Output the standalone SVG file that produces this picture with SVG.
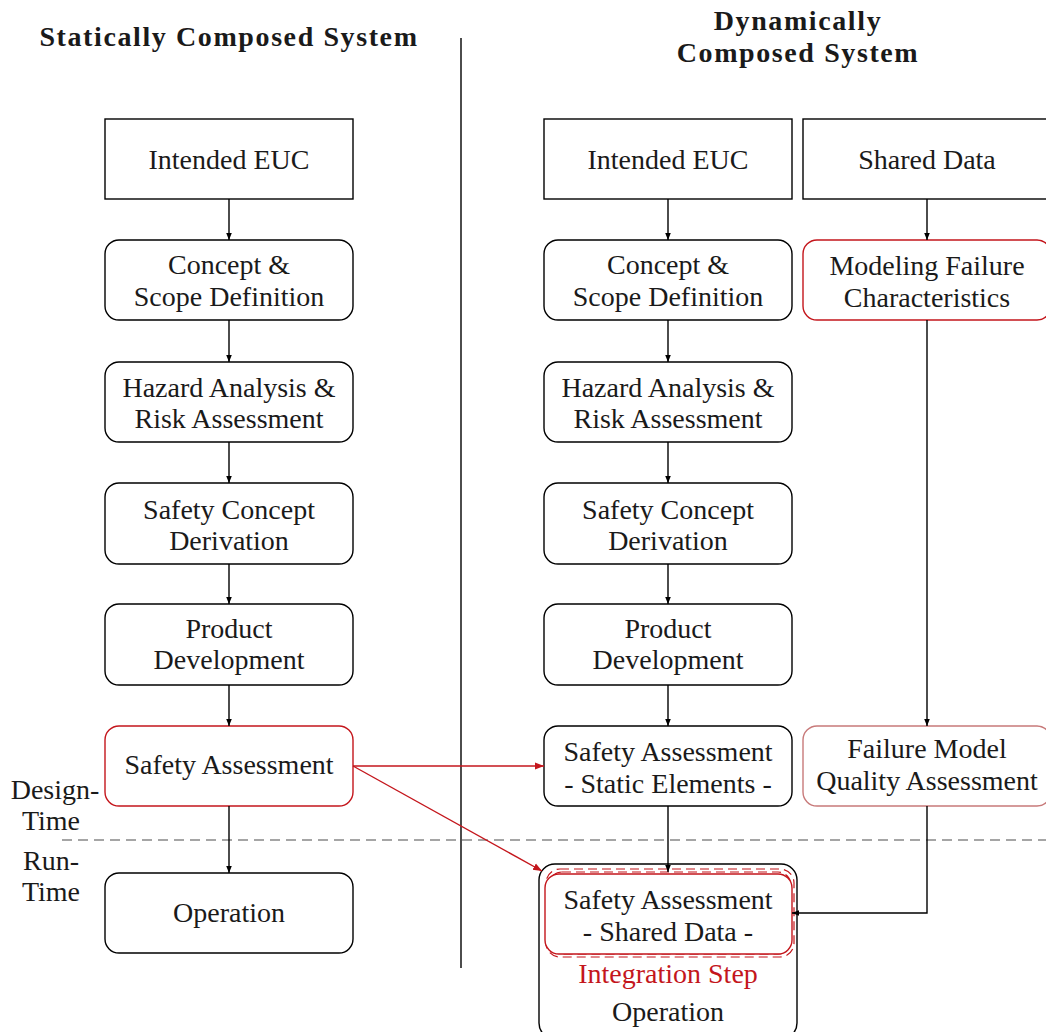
<svg xmlns="http://www.w3.org/2000/svg" width="1046" height="1032" viewBox="0 0 1046 1032">
  <style>
    text { font-family: "Liberation Serif", "DejaVu Serif", serif; font-size: 28px; fill: #1a1a1a; text-anchor: middle; }
    .title { font-weight: bold; font-size: 28px; letter-spacing: 1.6px; }
    .box { fill: #fff; stroke: #000; stroke-width: 1.4; }
    .red { stroke: #c4161c; }
    .pale { stroke: #c87a7a; }
    .conn { stroke: #000; stroke-width: 1.4; fill: none; }
    .rconn { stroke: #c4161c; stroke-width: 1.4; fill: none; }
    .redtext { fill: #c4161c; }
  </style>
  <defs>
    <marker id="arr" viewBox="0 0 10 10" refX="10" refY="5" markerWidth="7" markerHeight="7" orient="auto" markerUnits="userSpaceOnUse">
      <path d="M0,1 L10,5 L0,9 z" fill="#000"/>
    </marker>
    <marker id="arrRed" viewBox="0 0 10 10" refX="10" refY="5" markerWidth="9" markerHeight="9" orient="auto" markerUnits="userSpaceOnUse">
      <path d="M0,1 L10,5 L0,9 z" fill="#c4161c"/>
    </marker>
  </defs>

  <rect width="1046" height="1032" fill="#fff"/>

  <!-- headings and separators -->
  <text class="title" x="229" y="46">Statically Composed System</text>
  <text class="title" x="798" y="30">Dynamically</text>
  <text class="title" x="798" y="62">Composed System</text>
  <line x1="461" y1="38" x2="461" y2="968" stroke="#000" stroke-width="1.4"/>
  <line x1="62" y1="840" x2="1046" y2="840" stroke="#888" stroke-width="1.4" stroke-dasharray="10,6"/>
  <text x="55" y="799">Design-</text>
  <text x="51" y="830">Time</text>
  <text x="51" y="870">Run-</text>
  <text x="51" y="901">Time</text>

  <!-- left column -->
  <g id="s-euc"><rect class="box" x="105" y="119" width="248" height="80"/><text x="229" y="169">Intended EUC</text></g>
  <g id="s-concept"><rect class="box" x="105" y="240" width="248" height="80" rx="14"/><text x="229" y="274">Concept &amp;</text><text x="229" y="306">Scope Definition</text></g>
  <g id="s-hazard"><rect class="box" x="105" y="362" width="248" height="80" rx="14"/><text x="229" y="397">Hazard Analysis &amp;</text><text x="229" y="428">Risk Assessment</text></g>
  <g id="s-safety-concept"><rect class="box" x="105" y="483" width="248" height="81" rx="14"/><text x="229" y="519">Safety Concept</text><text x="229" y="550">Derivation</text></g>
  <g id="s-product"><rect class="box" x="105" y="604" width="248" height="81" rx="14"/><text x="229" y="638">Product</text><text x="229" y="669">Development</text></g>
  <g id="s-assessment"><rect class="box red" x="105" y="726" width="248" height="80" rx="14"/><text x="229" y="774">Safety Assessment</text></g>
  <g id="s-operation"><rect class="box" x="105" y="873" width="248" height="80" rx="14"/><text x="229" y="922">Operation</text></g>

  <!-- right column -->
  <g id="d-euc"><rect class="box" x="544" y="119" width="248" height="80"/><text x="668" y="169">Intended EUC</text></g>
  <g id="d-concept"><rect class="box" x="544" y="240" width="248" height="80" rx="14"/><text x="668" y="274">Concept &amp;</text><text x="668" y="306">Scope Definition</text></g>
  <g id="d-hazard"><rect class="box" x="544" y="362" width="248" height="80" rx="14"/><text x="668" y="397">Hazard Analysis &amp;</text><text x="668" y="428">Risk Assessment</text></g>
  <g id="d-safety-concept"><rect class="box" x="544" y="483" width="248" height="81" rx="14"/><text x="668" y="519">Safety Concept</text><text x="668" y="550">Derivation</text></g>
  <g id="d-product"><rect class="box" x="544" y="604" width="248" height="81" rx="14"/><text x="668" y="638">Product</text><text x="668" y="669">Development</text></g>
  <g id="d-assessment-static"><rect class="box" x="544" y="726" width="248" height="80" rx="14"/><text x="668" y="761">Safety Assessment</text><text x="668" y="793">- Static Elements -</text></g>

  <!-- shared data column -->
  <g id="shared-data"><rect class="box" x="803" y="119" width="248" height="80"/><text x="927" y="169">Shared Data</text></g>
  <g id="modeling-failure"><rect class="box red" x="803" y="240" width="248" height="80" rx="14"/><text x="927" y="275">Modeling Failure</text><text x="927" y="307">Characteristics</text></g>
  <g id="failure-model-qa"><rect class="box pale" x="803" y="726" width="248" height="80" rx="14"/><text x="927" y="758">Failure Model</text><text x="927" y="790">Quality Assessment</text></g>

  <!-- run-time operation with integration step -->
  <g id="d-operation">
    <rect class="box" x="539" y="864" width="258" height="175" rx="16"/>
    <rect x="546" y="869" width="248" height="88" rx="14" fill="none" stroke="#c4161c" stroke-width="1.2" stroke-dasharray="9,5"/>
    <rect x="549" y="872" width="242" height="82" rx="13" fill="none" stroke="#c4161c" stroke-width="1.2" stroke-dasharray="9,5"/>
    <rect x="545" y="874" width="247" height="80" rx="14" fill="#fff" stroke="#c4161c" stroke-width="1.4"/>
    <text x="668" y="909">Safety Assessment</text>
    <text x="668" y="941">- Shared Data -</text>
    <text class="redtext" x="668" y="983">Integration Step</text>
    <text x="668" y="1021">Operation</text>
  </g>

  <!-- connectors -->
  <g id="connectors">
    <line class="conn" x1="229" y1="199" x2="229" y2="240" marker-end="url(#arr)"/>
    <line class="conn" x1="229" y1="320" x2="229" y2="362" marker-end="url(#arr)"/>
    <line class="conn" x1="229" y1="442" x2="229" y2="483" marker-end="url(#arr)"/>
    <line class="conn" x1="229" y1="564" x2="229" y2="604" marker-end="url(#arr)"/>
    <line class="conn" x1="229" y1="685" x2="229" y2="726" marker-end="url(#arr)"/>
    <line class="conn" x1="229" y1="806" x2="229" y2="873" marker-end="url(#arr)"/>

    <line class="conn" x1="668" y1="199" x2="668" y2="240" marker-end="url(#arr)"/>
    <line class="conn" x1="668" y1="320" x2="668" y2="362" marker-end="url(#arr)"/>
    <line class="conn" x1="668" y1="442" x2="668" y2="483" marker-end="url(#arr)"/>
    <line class="conn" x1="668" y1="564" x2="668" y2="604" marker-end="url(#arr)"/>
    <line class="conn" x1="668" y1="685" x2="668" y2="726" marker-end="url(#arr)"/>
    <line class="conn" x1="668" y1="806" x2="668" y2="872" marker-end="url(#arr)"/>

    <line class="conn" x1="927" y1="199" x2="927" y2="240" marker-end="url(#arr)"/>
    <line class="conn" x1="927" y1="320" x2="927" y2="726" marker-end="url(#arr)"/>
    <polyline class="conn" points="927,806 927,913 792,913" marker-end="url(#arr)"/>

    <line class="rconn" x1="353" y1="766" x2="544" y2="766" marker-end="url(#arrRed)"/>
    <line class="rconn" x1="353" y1="766" x2="542" y2="871" marker-end="url(#arrRed)"/>
  </g>
</svg>
